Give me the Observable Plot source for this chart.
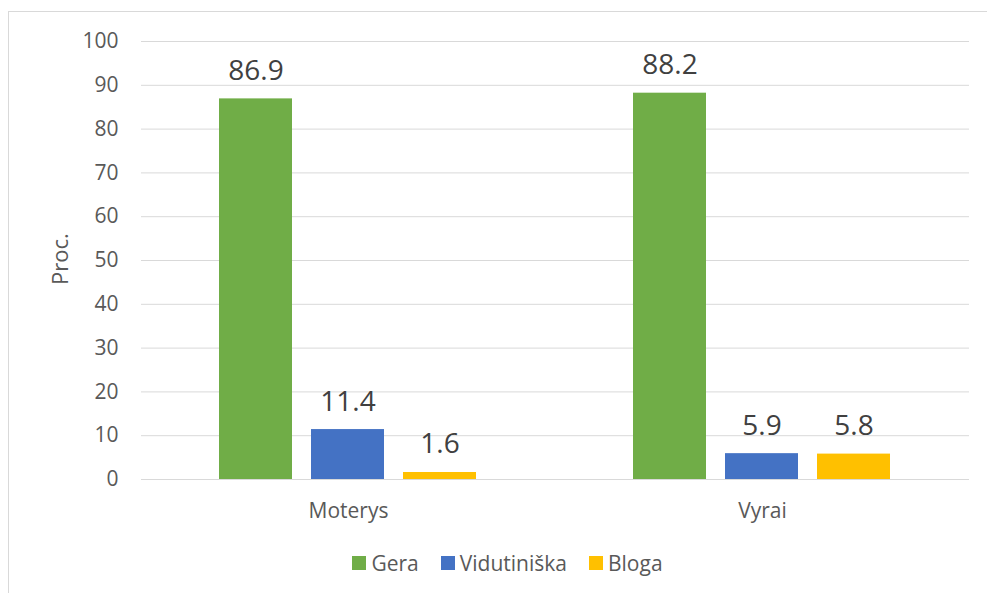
<!DOCTYPE html>
<html>
<head>
<meta charset="utf-8">
<script src="https://cdn.jsdelivr.net/npm/d3@7"></script>
<script src="https://cdn.jsdelivr.net/npm/@observablehq/plot@0.6"></script>
<style>
  html, body { margin: 0; padding: 0; background: #fff; }
  body { width: 987px; height: 593px; position: relative; overflow: hidden; font-family: "Open Sans", sans-serif; font-variant-ligatures: none; }
  #frame { position: absolute; left: 8px; top: 11px; width: 1000px; height: 1000px; border: 1px solid #d9d9d9; box-sizing: border-box; }
  #chart { position: absolute; left: 0; top: 0; }
  #ylabel { position: absolute; left: 59px; top: 259px; transform: translate(-50%, -50%) rotate(-90deg); font-size: 22px; line-height: 1; color: #595959; white-space: nowrap; }
  #legend { position: absolute; top: 548px; left: 0; width: 987px; display: flex; justify-content: center; gap: 22px; padding-left: 28px; box-sizing: border-box; font-size: 21px; line-height: 30px; color: #595959; }
  #legend span.item { display: flex; align-items: center; gap: 5px; }
  #legend span.sw { width: 14px; height: 14px; display: inline-block; }
</style>
</head>
<body>
<div id="frame"></div>
<div id="chart"></div>
<div id="ylabel">Proc.</div>
<div id="legend"></div>
<script>
const groups = ["Moterys", "Vyrai"];
const series = ["Gera", "Vidutiniška", "Bloga"];
const colors = ["#70AD47", "#4472C4", "#FFC000"];
const gera = [86.9, 88.2];
const vidutiniska = [11.4, 5.9];
const bloga = [1.6, 5.8];
const yTicks = [0, 10, 20, 30, 40, 50, 60, 70, 80, 90, 100];

const valuesBySeries = [gera, vidutiniska, bloga];
const data = [];
groups.forEach((g, gi) => {
  series.forEach((s, si) => {
    data.push({group: g, series: s, value: valuesBySeries[si][gi]});
  });
});

const chart = Plot.plot({
  width: 987,
  height: 530,
  marginLeft: 141,
  marginRight: 18,
  marginTop: 41,
  marginBottom: 51,
  style: {fontFamily: "'Open Sans', sans-serif", color: "#595959", background: "transparent", fontVariantLigatures: "none"},
  fx: {domain: groups, padding: 0, label: null},
  x: {domain: series, paddingInner: 0.2065, paddingOuter: 0.853, axis: null},
  y: {domain: [0, 100], label: null},
  color: {domain: series, range: colors},
  marks: [
    Plot.gridY(yTicks, {stroke: "#d9d9d9", strokeOpacity: 1, strokeWidth: 1}),
    Plot.axisY(yTicks, {tickSize: 0, tickPadding: 23, fontSize: 21, fill: "#595959", label: null}),
    Plot.axisFx({anchor: "bottom", tickSize: 0, tickPadding: 24, fontSize: 21, fill: "#595959", label: null}),
    Plot.barY(data, {fx: "group", x: "series", y: "value", fill: "series"}),
    Plot.ruleY([0], {stroke: "#d9d9d9"}),
    Plot.text(data, {fx: "group", x: "series", y: "value", text: d => d.value.toFixed(1), lineAnchor: "bottom", dy: -19, fontSize: 28, fill: "#404040"})
  ]
});
document.getElementById("chart").appendChild(chart);

const legend = document.getElementById("legend");
series.forEach((s, i) => {
  const item = document.createElement("span");
  item.className = "item";
  const sw = document.createElement("span");
  sw.className = "sw";
  sw.style.background = colors[i];
  const t = document.createElement("span");
  t.textContent = s;
  item.appendChild(sw);
  item.appendChild(t);
  legend.appendChild(item);
});
</script>
</body>
</html>
